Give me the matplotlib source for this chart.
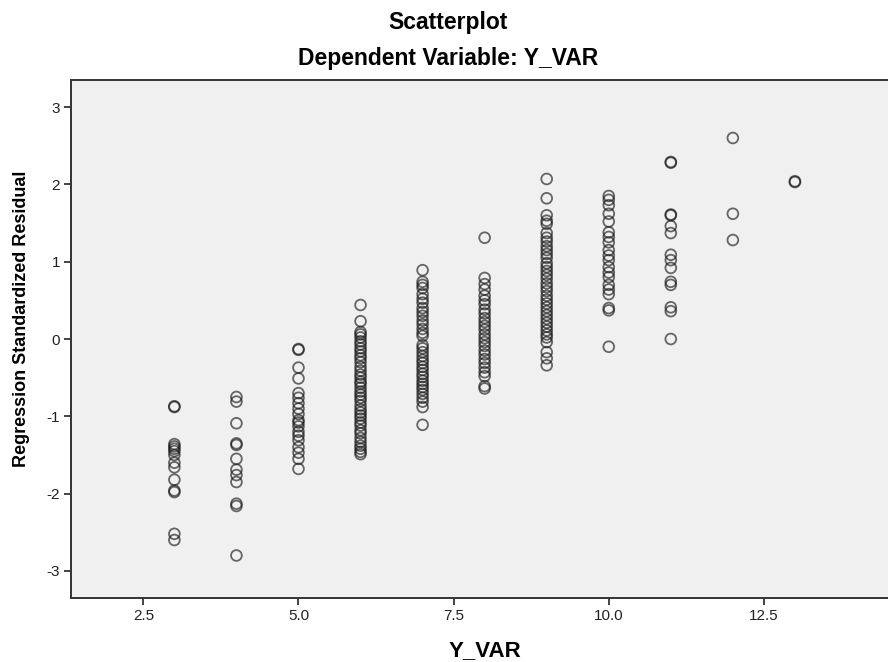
import numpy as np
import matplotlib
matplotlib.use("Agg")
import matplotlib.pyplot as plt

plt.rcParams['font.family'] = ['Liberation Sans', 'DejaVu Sans']
plt.rcParams['axes.unicode_minus'] = False

# residuals, grouped by Y_VAR value
res_3 = [-0.87, -0.88, -1.36, -1.39, -1.42, -1.45, -1.50, -1.60, -1.66, -1.82, -1.96, -1.98, -2.52, -2.60]
res_4 = [-0.75, -0.81, -1.09, -1.35, -1.37, -1.55, -1.69, -1.76, -1.85, -2.13, -2.16, -2.80]
res_5 = [-0.13, -0.14, -0.37, -0.51, -0.70, -0.76, -0.83, -0.90, -0.97, -1.05, -1.08, -1.13,
         -1.20, -1.25, -1.31, -1.40, -1.47, -1.55, -1.68]
res_6 = [0.44, 0.23, 0.09, 0.06, 0.02, -0.03, -0.07, -0.12, -0.16, -0.21, -0.25, -0.30, -0.36,
         -0.41, -0.46, -0.50, -0.55, -0.58, -0.63, -0.68, -0.72, -0.76, -0.80, -0.86, -0.91,
         -0.95, -0.99, -1.03, -1.08, -1.12, -1.18, -1.22, -1.28, -1.33, -1.38, -1.42, -1.46, -1.49]
res_7 = [0.89, 0.74, 0.70, 0.66, 0.58, 0.52, 0.47, 0.40, 0.35, 0.30, 0.24, 0.19, 0.13, 0.08, 0.04,
         -0.08, -0.12, -0.17, -0.22, -0.27, -0.31, -0.36, -0.40, -0.45, -0.49, -0.54, -0.58,
         -0.62, -0.66, -0.71, -0.76, -0.81, -0.88, -1.11]
res_8 = [1.31, 0.79, 0.71, 0.64, 0.56, 0.50, 0.45, 0.38, 0.33, 0.27, 0.22, 0.17, 0.12, 0.06, 0.01,
         -0.04, -0.09, -0.15, -0.20, -0.26, -0.31, -0.37, -0.43, -0.48, -0.61, -0.64]
res_9 = [2.07, 1.82, 1.60, 1.53, 1.49, 1.37, 1.31, 1.26, 1.20, 1.15, 1.10, 1.05, 0.98, 0.93, 0.88,
         0.83, 0.78, 0.72, 0.67, 0.62, 0.56, 0.51, 0.46, 0.41, 0.36, 0.31, 0.26, 0.21, 0.16,
         0.11, 0.06, 0.02, -0.04, -0.17, -0.25, -0.34]
res_10 = [1.85, 1.80, 1.73, 1.62, 1.52, 1.38, 1.32, 1.25, 1.15, 1.08, 1.02, 0.93, 0.86, 0.80,
          0.70, 0.64, 0.58, 0.40, 0.37, -0.10]
res_11 = [2.29, 2.28, 1.61, 1.60, 1.46, 1.37, 1.09, 1.02, 0.92, 0.74, 0.70, 0.41, 0.36, 0.00]
res_12 = [2.60, 1.62, 1.28]
res_13 = [2.04, 2.03]

y_vals = [3, 4, 5, 6, 7, 8, 9, 10, 11, 12, 13]
groups = [res_3, res_4, res_5, res_6, res_7, res_8, res_9, res_10, res_11, res_12, res_13]

xs = []
ys = []
for v, g in zip(y_vals, groups):
    xs += [v] * len(g)
    ys += g

fig = plt.figure(figsize=(8.88, 6.62), dpi=100)
ax = fig.add_axes([71 / 888, 64 / 662, 1 - 71 / 888, 518 / 662])
ax.set_facecolor('#f0f0f0')

ax.scatter(xs, ys, s=60, facecolors='none', edgecolors='#1a1a1a', linewidths=1.3, alpha=0.65)

ax.set_xlim(1.334, 14.5)
ax.set_ylim(-3.35, 3.35)
ax.set_xticks([2.5, 5.0, 7.5, 10.0, 12.5])
ax.set_xticklabels(['2.5', '5.0', '7.5', '10.0', '12.5'])
ax.set_yticks([-3, -2, -1, 0, 1, 2, 3])
ax.tick_params(length=5, width=1.2, colors='#222222', labelsize=11, pad=3)
for sp in ['left', 'bottom', 'top']:
    ax.spines[sp].set_linewidth(1.4)
    ax.spines[sp].set_color('#333333')
ax.spines['right'].set_visible(False)

fig.text(448 / 888, 1 - 22 / 662, 'Scatterplot', ha='center', va='center',
         fontsize=16.5, fontweight='bold')
fig.text(448 / 888, 1 - 59 / 662, 'Dependent Variable: Y_VAR', ha='center', va='center',
         fontsize=16.5, fontweight='bold')
fig.text(485 / 888, 1 - 651 / 662, 'Y_VAR', ha='center', va='center',
         fontsize=16, fontweight='bold')
fig.text(22 / 888, 1 - 319 / 662, 'Regression Standardized Residual', ha='center', va='center',
         rotation=90, fontsize=13, fontweight='bold')

fig.savefig('out.png', dpi=100)
